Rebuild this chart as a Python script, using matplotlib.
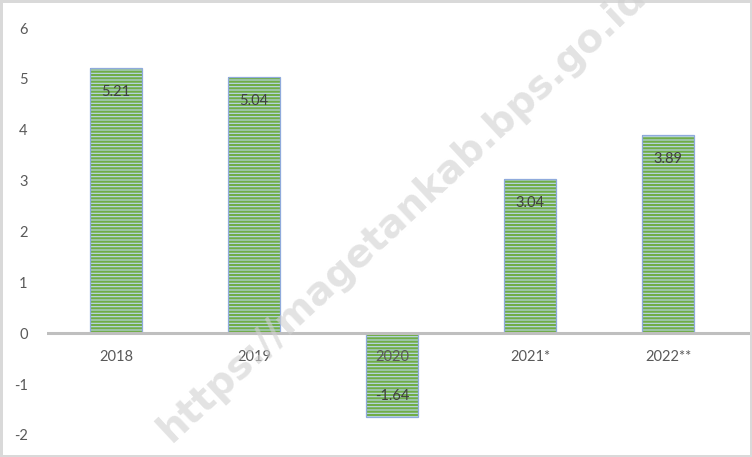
import matplotlib.pyplot as plt

# Data
years = ['2018', '2019', '2020', '2021*', '2022**']
growth = [5.21, 5.04, -1.64, 3.04, 3.89]
yticks = [-2, -1, 0, 1, 2, 3, 4, 5, 6]

plt.rcParams['font.family'] = ['Lato', 'DejaVu Sans']
plt.rcParams['hatch.linewidth'] = 1.6

fig = plt.figure(figsize=(7.52, 4.57), dpi=100)
fig.patch.set_edgecolor('#D9D9D9')
fig.patch.set_linewidth(2.5)
ax = fig.add_axes([47 / 752, 1 - 435 / 457, 703 / 752, 407 / 457])

x = range(len(years))
# striped fill (hatch takes the edge colour), then the outline on top
ax.bar(x, growth, width=0.38, color='#BDD7EE', edgecolor='#70AD47',
       linewidth=0, hatch='-----', zorder=2)
ax.bar(x, growth, width=0.38, fill=False, edgecolor='#8FAADC',
       linewidth=0.9, zorder=2.5)

for xi, v in zip(x, growth):
    off = -0.47 if v > 0 else 0.41
    ax.text(xi, v + off, f'{v:.2f}', ha='center', va='center',
            fontsize=10.5, color='#404040', zorder=4)

# category labels sit just under the zero line
for xi, lab in zip(x, years):
    ax.text(xi, -0.47, lab, ha='center', va='center', fontsize=10.5,
            color='#595959', zorder=4)

ax.axhline(0, color='#BFBFBF', linewidth=2.2, zorder=3)
ax.set_xlim(-0.5, -0.5 + 703 / 138)
ax.set_ylim(-2, 6)
ax.set_yticks(yticks)
ax.set_yticklabels([str(t) for t in yticks], fontsize=10.5, color='#595959')
ax.set_xticks([])
ax.tick_params(axis='y', length=0, pad=14)
for s in ax.spines.values():
    s.set_visible(False)

# watermark
fig.text(0.535, 0.535, 'https://magetankab.bps.go.id', rotation=43,
         ha='center', va='center', fontsize=28, fontweight='bold',
         color='#D0D0D0', alpha=0.6, family='DejaVu Sans', zorder=10)

fig.savefig('out.png', dpi=100)
